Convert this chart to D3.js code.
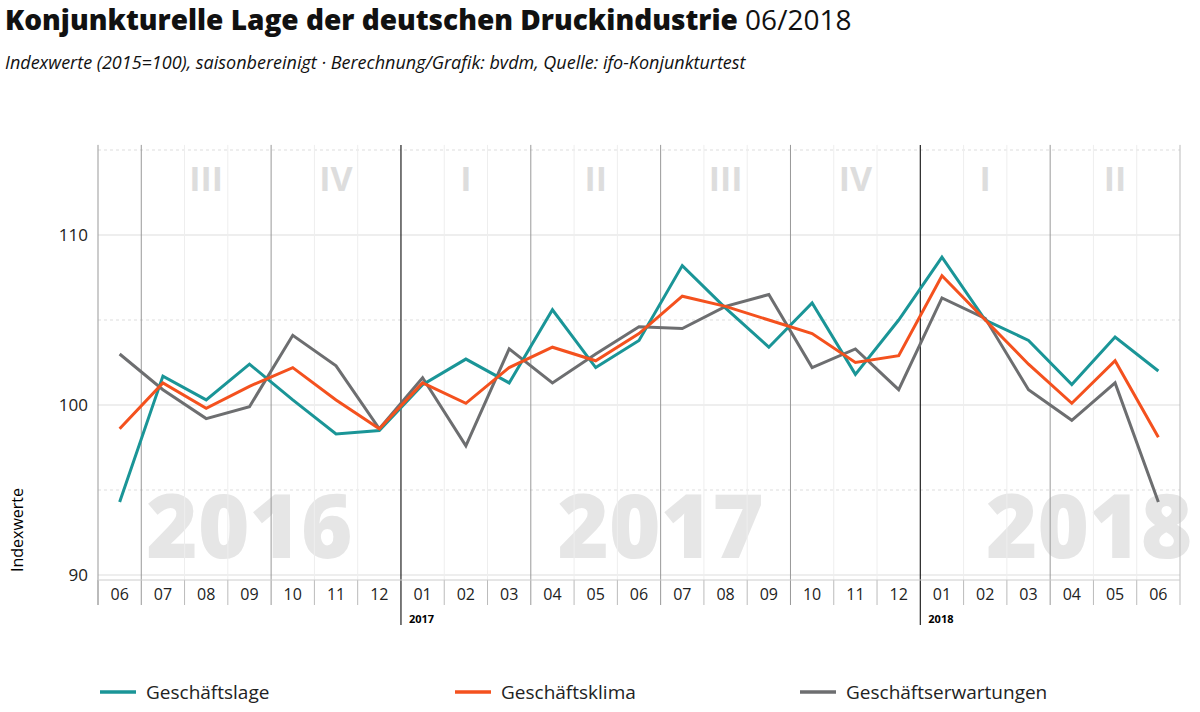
<!DOCTYPE html>
<html><head><meta charset="utf-8">
<script src="https://cdn.jsdelivr.net/npm/d3@7"></script>
<style>body{margin:0;background:#fff;font-family:"Open Sans",sans-serif;}</style>
</head><body>
<script>
var months = ["06","07","08","09","10","11","12","01","02","03","04","05","06","07","08","09","10","11","12","01","02","03","04","05","06"];
var lage = [94.3,101.7,100.3,102.4,100.3,98.3,98.5,101.2,102.7,101.3,105.6,102.2,103.8,108.2,105.7,103.4,106.0,101.8,105.0,108.7,105.0,103.8,101.2,104.0,102.0];
var klima = [98.6,101.3,99.8,101.1,102.2,100.3,98.6,101.3,100.1,102.2,103.4,102.6,104.2,106.4,105.8,105.0,104.2,102.5,102.9,107.6,105.0,102.4,100.1,102.6,98.1];
var erw = [103.0,100.9,99.2,99.9,104.1,102.3,98.6,101.6,97.6,103.3,101.3,103.0,104.6,104.5,105.8,106.5,102.2,103.3,100.9,106.3,105.1,100.9,99.1,101.3,94.3];
var quarters = ["III","IV","I","II","III","IV","I","II"];
var quarterStart = [1,4,7,10,13,16,19,22];
var years = [{t:"2016",i:3},{t:"2017",i:12.5},{t:"2018",i:22.4}];
var yTicks = [90,100,110];

var svg = d3.select("body").append("svg").attr("width",1200).attr("height",712);
var x = d3.scaleLinear().domain([-0.5,24.5]).range([98,1180]);
var y = d3.scaleLinear().domain([90,110]).range([575,235]);
var plotTop = y(115.3);

// year watermarks
years.forEach(function(d){
  svg.append("text").attr("x",x(d.i)).attr("y",558).attr("text-anchor","middle")
    .attr("font-size",88).attr("font-weight",800).attr("fill","#e6e6e6").text(d.t);
});
// horizontal grid
[95,105,115].forEach(function(v){
  svg.append("line").attr("x1",98).attr("x2",1180).attr("y1",y(v)).attr("y2",y(v))
    .attr("stroke","#ddd").attr("stroke-dasharray","3,3");
});
yTicks.forEach(function(v){
  svg.append("line").attr("x1",98).attr("x2",1180).attr("y1",y(v)).attr("y2",y(v)).attr("stroke","#ddd");
  svg.append("text").attr("x",88).attr("y",y(v)+6).attr("text-anchor","end").attr("font-size",17).attr("fill","#222").text(v);
});
// vertical month separators
d3.range(25).forEach(function(i){
  var xx = x(i-0.5);
  var isQ = quarterStart.indexOf(i) >= 0;
  var isY = i===7 || i===19;
  if(!isQ && i>0) svg.append("line").attr("x1",xx).attr("x2",xx).attr("y1",plotTop).attr("y2",580).attr("stroke","#eee");
  svg.append("line").attr("x1",xx).attr("x2",xx).attr("y1",isQ?plotTop:580).attr("y2",isY?625:605)
    .attr("stroke",isY?"#222":(isQ?"#999":"#bbb")).attr("stroke-width",isY?1.2:1);
});
svg.append("line").attr("x1",98).attr("x2",98).attr("y1",plotTop).attr("y2",605).attr("stroke","#999");
svg.append("line").attr("x1",1180).attr("x2",1180).attr("y1",plotTop).attr("y2",605).attr("stroke","#bbb");
svg.append("line").attr("x1",98).attr("x2",1180).attr("y1",580).attr("y2",580).attr("stroke","#ccc");
// quarter labels
quarters.forEach(function(q,k){
  svg.append("text").attr("x",x(quarterStart[k]+1)).attr("y",191).attr("text-anchor","middle")
    .attr("font-size",34).attr("font-weight",700).attr("fill","#ddd").text(q);
});
// month labels
months.forEach(function(m,i){
  svg.append("text").attr("x",x(i)).attr("y",600).attr("text-anchor","middle").attr("font-size",16).attr("fill","#222").text(m);
});
[{t:"2017",i:7},{t:"2018",i:19}].forEach(function(d){
  svg.append("text").attr("x",x(d.i-0.5)+8).attr("y",623).attr("font-size",11).attr("font-weight",700).text(d.t);
});
svg.append("text").attr("transform","translate(23,530) rotate(-90)").attr("text-anchor","middle")
  .attr("font-size",16).text("Indexwerte");

var series = [{n:"Geschäftslage",v:lage,c:"#1a9597",lx:100},{n:"Geschäftsklima",v:klima,c:"#f4511e",lx:455},{n:"Geschäftserwartungen",v:erw,c:"#6d6e70",lx:800}];
var line = d3.line().x(function(d,i){return x(i);}).y(function(d){return y(d);});
[series[2],series[0],series[1]].forEach(function(s){
  svg.append("path").datum(s.v).attr("d",line).attr("fill","none").attr("stroke",s.c).attr("stroke-width",3);
});
series.forEach(function(s){
  svg.append("line").attr("x1",s.lx).attr("x2",s.lx+36).attr("y1",692).attr("y2",692).attr("stroke",s.c).attr("stroke-width",3.5);
  svg.append("text").attr("x",s.lx+46).attr("y",699).attr("font-size",19).attr("fill","#222").text(s.n);
});
// title
var t = svg.append("text").attr("x",5).attr("y",30).attr("font-size",28).attr("fill","#111");
t.append("tspan").attr("font-weight",800).text("Konjunkturelle Lage der deutschen Druckindustrie ");
t.append("tspan").attr("font-weight",400).text("06/2018");
svg.append("text").attr("x",5).attr("y",69).attr("font-size",18).attr("font-style","italic").attr("fill","#111")
  .text("Indexwerte (2015=100), saisonbereinigt  ·  Berechnung/Grafik: bvdm, Quelle: ifo-Konjunkturtest");
</script>
</body></html>
